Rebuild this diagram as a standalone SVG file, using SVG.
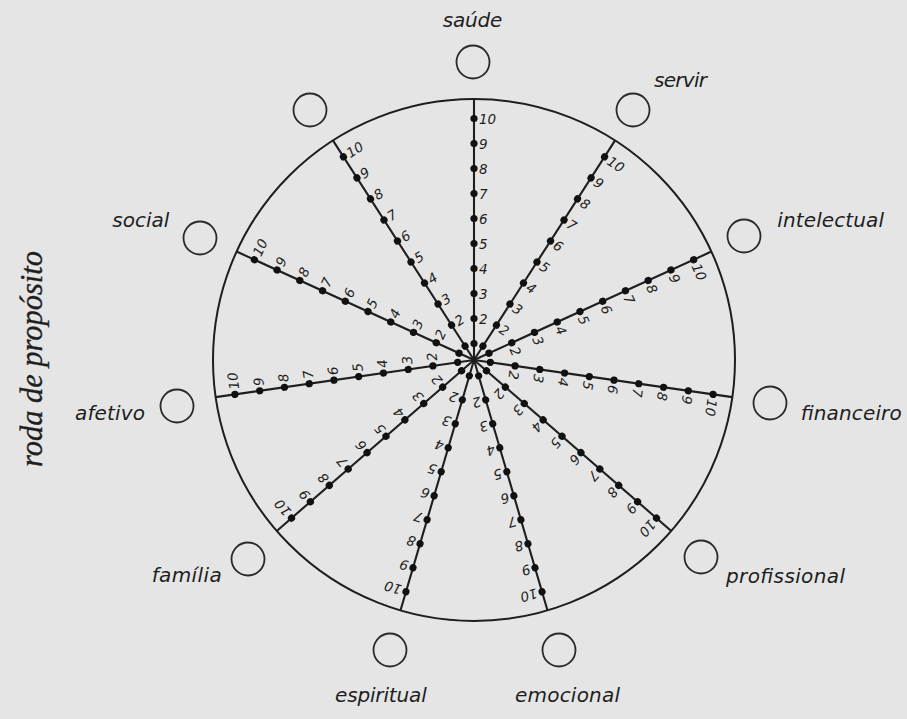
<svg xmlns="http://www.w3.org/2000/svg" width="907" height="719" viewBox="0 0 907 719">
<style>
.ink{stroke:#1e1e1e;fill:none}
.rim{stroke-width:2}
.sp{stroke-width:2.1}
.dot{fill:#111;stroke:none}
.num{font-family:"DejaVu Sans",sans-serif;font-style:italic;font-size:13.5px;fill:#1e1e1e}
.lbl{font-family:"DejaVu Sans",sans-serif;font-style:italic;font-size:20px;fill:#1e1e1e}
.node{fill:none;stroke:#2a2a2a;stroke-width:1.8}
.title{font-style:italic;font-size:31px;fill:#1e1e1e;stroke:#1e1e1e;stroke-width:0.35}
</style>
<defs>
<g id="spoke">
<line class="ink sp" x1="0" y1="0" x2="0" y2="-261"/>
<circle class="dot" cx="0" cy="-16.5" r="3.6"/>
<circle class="dot" cx="0" cy="-41.5" r="3.6"/>
<circle class="dot" cx="0" cy="-66.5" r="3.6"/>
<circle class="dot" cx="0" cy="-91.5" r="3.6"/>
<circle class="dot" cx="0" cy="-116.5" r="3.6"/>
<circle class="dot" cx="0" cy="-141.5" r="3.6"/>
<circle class="dot" cx="0" cy="-166.5" r="3.6"/>
<circle class="dot" cx="0" cy="-191.5" r="3.6"/>
<circle class="dot" cx="0" cy="-216.5" r="3.6"/>
<circle class="dot" cx="0" cy="-241.5" r="3.6"/>
<text class="num" x="5" y="-36.5">2</text>
<text class="num" x="5" y="-61.5">3</text>
<text class="num" x="5" y="-86.5">4</text>
<text class="num" x="5" y="-111.5">5</text>
<text class="num" x="5" y="-136.5">6</text>
<text class="num" x="5" y="-161.5">7</text>
<text class="num" x="5" y="-186.5">8</text>
<text class="num" x="5" y="-211.5">9</text>
<text class="num" x="5" y="-236.5">10</text>
</g>
</defs>
<rect width="907" height="719" fill="#e5e5e5"/>
<text class="title" font-family="'Liberation Serif', 'DejaVu Serif', serif" transform="translate(42,359) rotate(-90)" text-anchor="middle" textLength="216" lengthAdjust="spacingAndGlyphs">roda de propósito</text>
<g id="wheel">
<circle class="ink rim" cx="474" cy="360" r="261"/>
</g>
<g id="connectors">
<use href="#spoke" transform="translate(474,360) rotate(0)"/>
<use href="#spoke" transform="translate(474,360) rotate(32.7273)"/>
<use href="#spoke" transform="translate(474,360) rotate(65.4545)"/>
<use href="#spoke" transform="translate(474,360) rotate(98.1818)"/>
<use href="#spoke" transform="translate(474,360) rotate(130.9091)"/>
<use href="#spoke" transform="translate(474,360) rotate(163.6364)"/>
<use href="#spoke" transform="translate(474,360) rotate(196.3636)"/>
<use href="#spoke" transform="translate(474,360) rotate(229.0909)"/>
<use href="#spoke" transform="translate(474,360) rotate(261.8182)"/>
<use href="#spoke" transform="translate(474,360) rotate(294.5455)"/>
<use href="#spoke" transform="translate(474,360) rotate(327.2727)"/>
</g>
<g id="saude"><circle class="node" cx="473" cy="62" r="16.5"/><text class="lbl" x="442.7" y="27" textLength="59.6">saúde</text></g>
<g id="servir"><circle class="node" cx="633" cy="110" r="16.5"/><text class="lbl" x="654" y="86.7" textLength="53">servir</text></g>
<g id="intelectual"><circle class="node" cx="744" cy="236" r="16.5"/><text class="lbl" x="777.3" y="226.7" textLength="106.7">intelectual</text></g>
<g id="financeiro"><circle class="node" cx="770" cy="403" r="16.5"/><text class="lbl" x="800.7" y="420" textLength="101">financeiro</text></g>
<g id="profissional"><circle class="node" cx="701" cy="557" r="16.5"/><text class="lbl" x="726" y="582.7" textLength="119">profissional</text></g>
<g id="emocional"><circle class="node" cx="559" cy="650" r="16.5"/><text class="lbl" x="515" y="701.7" textLength="105">emocional</text></g>
<g id="espiritual"><circle class="node" cx="390" cy="650" r="16.5"/><text class="lbl" x="335" y="701.7" textLength="91.7">espiritual</text></g>
<g id="familia"><circle class="node" cx="248" cy="559" r="16.5"/><text class="lbl" x="151.7" y="582.3" textLength="70">família</text></g>
<g id="afetivo"><circle class="node" cx="177" cy="406" r="16.5"/><text class="lbl" x="75" y="420" textLength="70">afetivo</text></g>
<g id="social"><circle class="node" cx="200" cy="238" r="16.5"/><text class="lbl" x="112.3" y="227.3" textLength="57">social</text></g>
<g id="sem-nome"><circle class="node" cx="310" cy="110" r="16.5"/></g>
</svg>
